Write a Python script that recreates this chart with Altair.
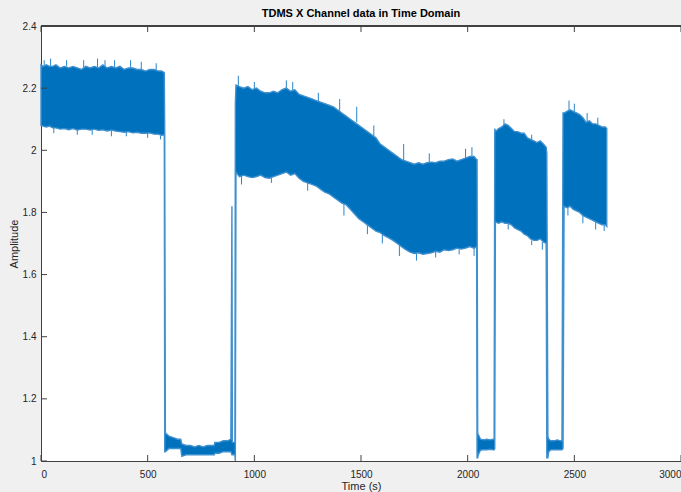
import altair as alt
import pandas as pd

# ---- signal envelope (lower / upper of the dense noisy trace) ----
seg1_t = [0, 10, 25, 40, 55, 70, 90, 110, 130, 150, 170, 190, 210, 230, 250, 270, 290, 310,
          330, 350, 370, 390, 410, 430, 450, 470, 490, 510, 530, 550, 565, 578]
seg1_hi = [2.275, 2.27, 2.275, 2.27, 2.27, 2.275, 2.265, 2.27, 2.265, 2.27, 2.265, 2.26, 2.27, 2.265,
           2.27, 2.265, 2.275, 2.265, 2.27, 2.265, 2.27, 2.26, 2.265, 2.265, 2.26, 2.26, 2.255, 2.26,
           2.26, 2.255, 2.255, 2.25]
seg1_lo = [2.08, 2.078, 2.075, 2.078, 2.072, 2.072, 2.068, 2.07, 2.066, 2.07, 2.065, 2.068, 2.068,
           2.065, 2.068, 2.064, 2.066, 2.062, 2.065, 2.062, 2.06, 2.058, 2.06, 2.056, 2.058, 2.055,
           2.055, 2.056, 2.052, 2.052, 2.048, 2.05]

drop1_t = [580]
drop1_hi = [2.05]
drop1_lo = [1.03]

seg2_t = [583, 600, 620, 640, 655, 660, 680, 700, 720, 740, 760, 780, 800, 812, 815, 835, 855, 875, 890]
seg2_hi = [1.09, 1.08, 1.075, 1.07, 1.07, 1.055, 1.05, 1.05, 1.045, 1.05, 1.045, 1.05, 1.05, 1.05,
           1.06, 1.06, 1.065, 1.065, 1.07]
seg2_lo = [1.03, 1.04, 1.04, 1.04, 1.04, 1.015, 1.02, 1.02, 1.02, 1.02, 1.02, 1.02, 1.02, 1.02,
           1.025, 1.025, 1.03, 1.03, 1.03]

rise1_t = [895, 897, 909, 911]
rise1_hi = [1.82, 1.06, 1.06, 2.15]
rise1_lo = [1.02, 1.02, 1.02, 1.00]

seg3_t = [914, 930, 950, 970, 990, 1010, 1030, 1050, 1070, 1090, 1110, 1130, 1150, 1170, 1190, 1210,
          1230, 1250, 1270, 1290, 1310, 1330, 1350, 1370, 1390, 1410, 1430, 1450, 1470, 1490, 1510,
          1530, 1550, 1570, 1590, 1610, 1630, 1650, 1670, 1690, 1710, 1730, 1750, 1770, 1790, 1810,
          1830, 1850, 1870, 1890, 1910, 1930, 1950, 1970, 1990, 2010, 2030, 2042]
seg3_hi = [2.21, 2.205, 2.20, 2.205, 2.195, 2.20, 2.19, 2.185, 2.185, 2.19, 2.185, 2.195, 2.20, 2.19,
           2.195, 2.18, 2.175, 2.17, 2.165, 2.16, 2.155, 2.15, 2.145, 2.14, 2.13, 2.12, 2.11, 2.10,
           2.09, 2.08, 2.07, 2.06, 2.05, 2.04, 2.02, 2.01, 2.00, 1.99, 1.98, 1.97, 1.965, 1.96, 1.955,
           1.96, 1.955, 1.96, 1.962, 1.96, 1.965, 1.965, 1.97, 1.972, 1.965, 1.97, 1.975, 1.98,
           1.98, 1.97]
seg3_lo = [1.93, 1.915, 1.92, 1.915, 1.912, 1.915, 1.92, 1.912, 1.91, 1.915, 1.92, 1.925, 1.93, 1.92,
           1.925, 1.91, 1.90, 1.895, 1.89, 1.885, 1.875, 1.865, 1.86, 1.85, 1.84, 1.83, 1.825, 1.81,
           1.795, 1.78, 1.77, 1.76, 1.75, 1.74, 1.735, 1.725, 1.718, 1.71, 1.70, 1.69, 1.68, 1.672,
           1.668, 1.67, 1.665, 1.668, 1.67, 1.675, 1.672, 1.68, 1.677, 1.68, 1.685, 1.682, 1.685,
           1.69, 1.685, 1.69]

drop2_t = [2044]
drop2_hi = [1.97]
drop2_lo = [1.01]

seg4_t = [2047, 2050, 2060, 2075, 2090, 2105, 2120, 2124]
seg4_hi = [1.09, 1.085, 1.07, 1.068, 1.07, 1.068, 1.07, 1.07]
seg4_lo = [1.01, 1.02, 1.035, 1.036, 1.036, 1.038, 1.036, 1.036]

rise2_t = [2127]
rise2_hi = [2.07]
rise2_lo = [1.04]

seg5_t = [2130, 2145, 2160, 2175, 2190, 2205, 2220, 2235, 2250, 2265, 2280, 2295, 2310, 2325, 2340,
          2355, 2368]
seg5_hi = [2.06, 2.07, 2.075, 2.085, 2.08, 2.07, 2.06, 2.06, 2.055, 2.055, 2.04, 2.035, 2.03, 2.025,
           2.03, 2.02, 2.01]
seg5_lo = [1.77, 1.765, 1.77, 1.765, 1.765, 1.76, 1.75, 1.745, 1.74, 1.73, 1.725, 1.715, 1.71, 1.71,
           1.715, 1.705, 1.70]

drop3_t = [2371]
drop3_hi = [1.99]
drop3_lo = [1.01]

seg6_t = [2376, 2380, 2390, 2405, 2420, 2435, 2442]
seg6_hi = [1.08, 1.07, 1.065, 1.065, 1.068, 1.065, 1.065]
seg6_lo = [1.01, 1.03, 1.036, 1.036, 1.036, 1.036, 1.036]

rise3_t = [2447]
rise3_hi = [2.12]
rise3_lo = [1.04]

seg7_t = [2452, 2465, 2480, 2495, 2510, 2525, 2540, 2555, 2570, 2585, 2600, 2615, 2630, 2645, 2652]
seg7_hi = [2.12, 2.125, 2.13, 2.125, 2.12, 2.115, 2.105, 2.09, 2.095, 2.085, 2.085, 2.08, 2.075,
           2.075, 2.07]
seg7_lo = [1.82, 1.815, 1.82, 1.81, 1.805, 1.80, 1.79, 1.785, 1.78, 1.775, 1.77, 1.765, 1.76, 1.76,
           1.755]

# ---- isolated noise spikes sticking out of the band (time, band value, spike tip) ----
spike_t = [15, 45, 120, 200, 265, 300, 345, 420, 470, 540,
           60, 170, 240, 330, 400, 500, 560,
           925, 1000, 1150, 1180, 1300, 1400, 1480, 1560, 1700, 1820, 1990, 2020,
           940, 1080, 1250, 1420, 1530, 1600, 1680, 1760, 1850, 1960, 2030,
           2170, 2300, 2190, 2300, 2350,
           2475, 2500, 2560, 2610, 2470, 2540, 2600, 2640]
spike_base = [2.27, 2.27, 2.27, 2.26, 2.265, 2.265, 2.265, 2.265, 2.26, 2.255,
              2.072, 2.065, 2.065, 2.062, 2.06, 2.055, 2.048,
              2.205, 2.195, 2.2, 2.19, 2.155, 2.125, 2.09, 2.045, 1.965, 1.96, 1.975, 1.98,
              1.92, 1.912, 1.895, 1.83, 1.76, 1.73, 1.70, 1.668, 1.675, 1.682, 1.685,
              2.08, 2.03, 1.765, 1.71, 1.705,
              2.13, 2.125, 2.09, 2.08, 1.82, 1.79, 1.77, 1.76]
spike_tip = [2.29, 2.295, 2.29, 2.29, 2.295, 2.29, 2.29, 2.29, 2.285, 2.28,
             2.055, 2.05, 2.05, 2.045, 2.045, 2.04, 2.035,
             2.24, 2.22, 2.225, 2.22, 2.185, 2.165, 2.14, 2.08, 2.02, 1.99, 2.005, 2.01,
             1.89, 1.895, 1.87, 1.79, 1.73, 1.70, 1.66, 1.645, 1.655, 1.665, 1.66,
             2.10, 2.05, 1.745, 1.695, 1.68,
             2.16, 2.15, 2.12, 2.105, 1.79, 1.765, 1.745, 1.74]

x_ticks = [0, 500, 1000, 1500, 2000, 2500, 3000]
y_ticks = [1.0, 1.2, 1.4, 1.6, 1.8, 2.0, 2.2, 2.4]

t_all = (seg1_t + drop1_t + seg2_t + rise1_t + seg3_t + drop2_t + seg4_t + rise2_t + seg5_t
         + drop3_t + seg6_t + rise3_t + seg7_t)
hi_all = (seg1_hi + drop1_hi + seg2_hi + rise1_hi + seg3_hi + drop2_hi + seg4_hi + rise2_hi + seg5_hi
          + drop3_hi + seg6_hi + rise3_hi + seg7_hi)
lo_all = (seg1_lo + drop1_lo + seg2_lo + rise1_lo + seg3_lo + drop2_lo + seg4_lo + rise2_lo + seg5_lo
          + drop3_lo + seg6_lo + rise3_lo + seg7_lo)

sig = pd.DataFrame({"t": t_all, "lo": lo_all, "hi": hi_all})
spk = pd.DataFrame({"t": spike_t, "base": spike_base, "tip": spike_tip})
xt = pd.DataFrame({"v": x_ticks})
yt = pd.DataFrame({"v": y_ticks})

W, H = 640, 435
AX = "#404040"
BLUE = "#0072BD"
FONT = "Liberation Sans"

xscale = alt.Scale(domain=[0, 3000], nice=False, zero=False)
yscale = alt.Scale(domain=[1.0, 2.4], nice=False, zero=False)

band = alt.Chart(sig).mark_area(
    color=BLUE, stroke="#3f90cf", strokeWidth=1.4, interpolate="linear"
).encode(
    x=alt.X("t:Q", scale=xscale,
            axis=alt.Axis(title="Time (s)", values=x_ticks, format="d", ticks=False,
                          grid=False, domainColor=AX, labelPadding=8, titlePadding=1)),
    y=alt.Y("lo:Q", scale=yscale,
            axis=alt.Axis(title="Amplitude", values=y_ticks, format=".1~f", ticks=False,
                          grid=False, domainColor=AX, labelPadding=5, titlePadding=3)),
    y2="hi:Q",
)

spikes = alt.Chart(spk).mark_rule(color="#2a84c9", strokeWidth=1).encode(
    x=alt.X("t:Q", scale=xscale), y=alt.Y("base:Q", scale=yscale), y2="tip:Q")

bottom_ticks = alt.Chart(xt).mark_rule(color=AX, strokeWidth=1).encode(
    x=alt.X("v:Q", scale=xscale), y=alt.value(H), y2=alt.value(H - 6))
top_ticks = alt.Chart(xt).mark_rule(color=AX, strokeWidth=1).encode(
    x=alt.X("v:Q", scale=xscale), y=alt.value(0), y2=alt.value(6))
left_ticks = alt.Chart(yt).mark_rule(color=AX, strokeWidth=1).encode(
    y=alt.Y("v:Q", scale=yscale), x=alt.value(0), x2=alt.value(6))
top_line = alt.Chart(xt).mark_rule(color=AX, strokeWidth=1).encode(
    x=alt.value(0), x2=alt.value(W), y=alt.value(0))

chart = alt.layer(spikes, band, bottom_ticks, top_ticks, left_ticks, top_line).properties(
    width=W, height=H,
    autosize=alt.AutoSizeParams(type="none"),
    padding={"left": 41, "top": 26, "right": 0, "bottom": 31},
    background="#f0f0f0",
    title=alt.TitleParams("TDMS X Channel data in Time Domain", fontSize=11, fontWeight="bold",
                          font=FONT, color="#000000", offset=2, anchor="middle"),
).configure_view(stroke=None, fill="white").configure_axis(
    labelFont=FONT, titleFont=FONT, labelFontSize=10, titleFontSize=11,
    labelColor="#262626", titleColor="#262626", titleFontWeight="normal", domainWidth=1,
)

chart.save("out.html", embed_options={"renderer": "svg", "actions": False})
